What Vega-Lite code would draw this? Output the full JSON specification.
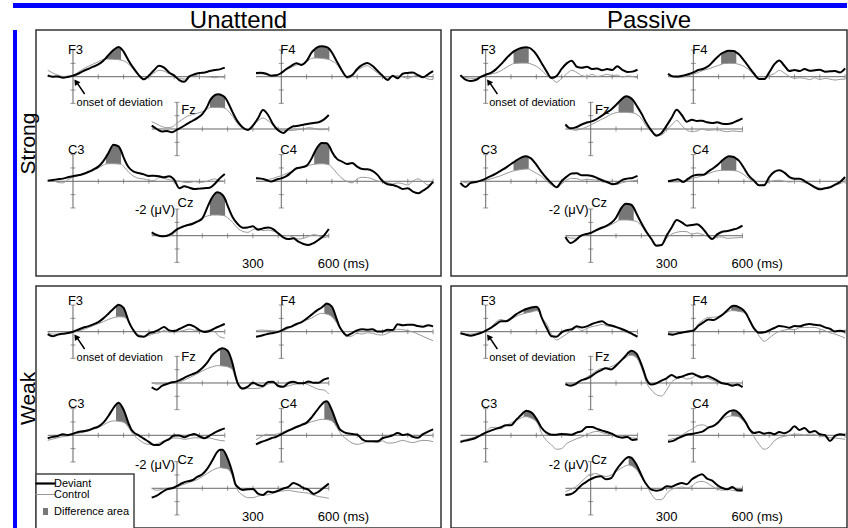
{
"$schema":"https://vega.github.io/schema/vega-lite/v6.json",
"padding":{"left":13,"top":3,"right":0,"bottom":0},
"background":"#ffffff",
"spacing":0,
"resolve":{"scale":{"color":"independent"},"legend":{"color":"independent"}},
"config":{
 "font":"Liberation Sans",
 "view":{"stroke":null},
 "axis":{"disable":true},
 "concat":{"spacing":0},
 "title":{"font":"Liberation Sans","fontSize":24,"fontWeight":"normal","color":"#000","offset":-3},
 "line":{"color":"#000","strokeWidth":2,"interpolate":"monotone"},
 "area":{"color":"#777","interpolate":"monotone"},
 "rule":{"color":"#666","strokeWidth":1},
 "tick":{"color":"#666"},
 "text":{"font":"Liberation Sans","fontSize":13,"align":"left","baseline":"alphabetic","color":"#000"}
},
"datasets":{
"one":[{"o":1}],
"xt":[{"t":100},{"t":200},{"t":300},{"t":400},{"t":500},{"t":600}],
"yt":[{"d":-2},{"d":-1},{"d":1},{"d":2}],
"SU_F3":[{"t":-100,"d":-0.1,"k":-0.48},{"t":-80,"d":0,"k":-0.28},{"t":-60,"d":-0.02,"k":-0.12},{"t":-40,"d":0.08,"k":-0.02},{"t":-20,"d":0.02,"k":-0.05},{"t":0,"d":-0.08,"k":-0.12},{"t":20,"d":-0.22,"k":-0.32},{"t":40,"d":-0.42,"k":-0.58},{"t":60,"d":-0.58,"k":-0.78},{"t":80,"d":-0.75,"k":-0.95},{"t":100,"d":-0.92,"k":-1.12},{"t":120,"d":-1.2,"k":-1.3},{"t":130,"d":-1.4,"k":-1.32},{"t":140,"d":-1.62,"k":-1.32},{"t":160,"d":-2,"k":-1.3},{"t":180,"d":-2.22,"k":-1.28},{"t":190,"d":-2.12,"k":-1.25},{"t":200,"d":-1.88,"k":-1.2},{"t":220,"d":-1.2,"k":-0.95},{"t":240,"d":-0.62,"k":-0.52},{"t":260,"d":-0.12,"k":-0.12},{"t":280,"d":0.2,"k":0.15},{"t":300,"d":-0.08,"k":0},{"t":320,"d":-0.48,"k":-0.28},{"t":340,"d":-0.82,"k":-0.48},{"t":360,"d":-0.68,"k":-0.42},{"t":380,"d":-0.32,"k":-0.22},{"t":400,"d":-0.08,"k":-0.08},{"t":420,"d":0.25,"k":0.1},{"t":440,"d":0.38,"k":0.18},{"t":460,"d":-0.02,"k":0},{"t":480,"d":-0.18,"k":-0.08},{"t":500,"d":-0.28,"k":-0.02},{"t":520,"d":-0.32,"k":0},{"t":540,"d":-0.42,"k":0.02},{"t":560,"d":-0.5,"k":0.08},{"t":580,"d":-0.55,"k":0.02},{"t":600,"d":-0.68,"k":0.05}],
"SU_F4":[{"t":-100,"d":-0.28,"k":-0.2},{"t":-80,"d":-0.3,"k":-0.22},{"t":-60,"d":-0.22,"k":-0.18},{"t":-40,"d":-0.08,"k":-0.1},{"t":-20,"d":-0.1,"k":-0.15},{"t":0,"d":-0.28,"k":-0.28},{"t":20,"d":-0.58,"k":-0.52},{"t":40,"d":-0.82,"k":-0.7},{"t":60,"d":-1,"k":-0.88},{"t":80,"d":-0.88,"k":-0.95},{"t":100,"d":-1.18,"k":-1.12},{"t":120,"d":-1.82,"k":-1.38},{"t":130,"d":-2.02,"k":-1.4},{"t":140,"d":-2.18,"k":-1.4},{"t":160,"d":-2.28,"k":-1.38},{"t":180,"d":-2.22,"k":-1.32},{"t":190,"d":-2.08,"k":-1.28},{"t":200,"d":-1.82,"k":-1.18},{"t":220,"d":-1.12,"k":-0.92},{"t":240,"d":-0.45,"k":-0.38},{"t":260,"d":0.02,"k":0.12},{"t":280,"d":-0.12,"k":-0.02},{"t":300,"d":-0.58,"k":-0.45},{"t":320,"d":-0.88,"k":-0.7},{"t":340,"d":-1.02,"k":-0.82},{"t":360,"d":-0.82,"k":-0.58},{"t":380,"d":-0.45,"k":-0.28},{"t":400,"d":-0.08,"k":-0.02},{"t":420,"d":0.25,"k":0.12},{"t":440,"d":-0.08,"k":-0.02},{"t":460,"d":0.12,"k":-0.08},{"t":480,"d":-0.22,"k":0.02},{"t":500,"d":-0.28,"k":0.12},{"t":520,"d":-0.32,"k":-0.02},{"t":540,"d":-0.12,"k":-0.12},{"t":560,"d":0.05,"k":0},{"t":580,"d":-0.18,"k":0.18},{"t":600,"d":-0.42,"k":0.22}],
"SU_Fz":[{"t":-100,"d":-0.25,"k":-0.55},{"t":-80,"d":0,"k":-0.38},{"t":-60,"d":0.18,"k":-0.18},{"t":-40,"d":0.15,"k":-0.1},{"t":-20,"d":0.25,"k":-0.15},{"t":0,"d":0.05,"k":-0.45},{"t":20,"d":-0.15,"k":-0.7},{"t":40,"d":-0.38,"k":-0.95},{"t":60,"d":-0.6,"k":-1.08},{"t":80,"d":-0.82,"k":-1.18},{"t":100,"d":-1.12,"k":-1.3},{"t":120,"d":-1.7,"k":-1.5},{"t":130,"d":-2.12,"k":-1.6},{"t":140,"d":-2.38,"k":-1.62},{"t":160,"d":-2.6,"k":-1.62},{"t":180,"d":-2.5,"k":-1.6},{"t":190,"d":-2.35,"k":-1.55},{"t":200,"d":-2.05,"k":-1.4},{"t":220,"d":-1.25,"k":-0.95},{"t":240,"d":-0.55,"k":-0.38},{"t":260,"d":-0.12,"k":-0.05},{"t":280,"d":0.08,"k":0.02},{"t":300,"d":-0.25,"k":-0.32},{"t":320,"d":-0.8,"k":-0.62},{"t":340,"d":-1.42,"k":-0.82},{"t":360,"d":-1.05,"k":-0.62},{"t":380,"d":-0.35,"k":-0.3},{"t":400,"d":0.1,"k":0},{"t":420,"d":0.3,"k":0.1},{"t":440,"d":0,"k":0.12},{"t":460,"d":-0.2,"k":0.1},{"t":480,"d":-0.25,"k":0.05},{"t":500,"d":-0.32,"k":0},{"t":520,"d":-0.4,"k":-0.1},{"t":540,"d":-0.45,"k":-0.05},{"t":560,"d":-0.5,"k":0.05},{"t":580,"d":-0.7,"k":0.05},{"t":600,"d":-1.05,"k":0}],
"SU_C3":[{"t":-100,"d":-0.05,"k":-0.02},{"t":-80,"d":-0.1,"k":-0.05},{"t":-60,"d":-0.15,"k":0.08},{"t":-40,"d":-0.2,"k":0.12},{"t":-20,"d":-0.3,"k":-0.12},{"t":0,"d":-0.38,"k":-0.3},{"t":20,"d":-0.45,"k":-0.42},{"t":40,"d":-0.55,"k":-0.55},{"t":60,"d":-0.7,"k":-0.68},{"t":80,"d":-0.88,"k":-0.8},{"t":100,"d":-1.1,"k":-1},{"t":120,"d":-1.52,"k":-1.22},{"t":130,"d":-1.8,"k":-1.3},{"t":140,"d":-2.12,"k":-1.32},{"t":160,"d":-2.75,"k":-1.32},{"t":180,"d":-2.62,"k":-1.3},{"t":190,"d":-2.3,"k":-1.28},{"t":200,"d":-1.8,"k":-1.12},{"t":220,"d":-1.05,"k":-0.68},{"t":240,"d":-0.72,"k":-0.38},{"t":260,"d":-0.62,"k":-0.22},{"t":280,"d":-0.52,"k":-0.18},{"t":300,"d":-0.4,"k":-0.08},{"t":320,"d":-0.42,"k":-0.05},{"t":340,"d":-0.38,"k":-0.28},{"t":360,"d":-0.3,"k":-0.22},{"t":380,"d":-0.38,"k":-0.12},{"t":400,"d":-0.12,"k":-0.05},{"t":420,"d":0.52,"k":-0.02},{"t":440,"d":0.38,"k":0.08},{"t":460,"d":0.48,"k":0.1},{"t":480,"d":0.58,"k":0.02},{"t":500,"d":0.55,"k":0.08},{"t":520,"d":0.52,"k":0.05},{"t":540,"d":0.48,"k":-0.08},{"t":560,"d":0.2,"k":-0.18},{"t":580,"d":-0.22,"k":-0.05},{"t":600,"d":-0.55,"k":0.02}],
"SU_C4":[{"t":-100,"d":-0.22,"k":-0.3},{"t":-80,"d":-0.2,"k":-0.22},{"t":-60,"d":-0.1,"k":-0.12},{"t":-40,"d":0.02,"k":-0.18},{"t":-20,"d":-0.12,"k":-0.3},{"t":0,"d":-0.22,"k":-0.42},{"t":20,"d":-0.38,"k":-0.58},{"t":40,"d":-0.68,"k":-0.72},{"t":60,"d":-0.98,"k":-0.92},{"t":80,"d":-1.05,"k":-1.02},{"t":100,"d":-1.18,"k":-1.12},{"t":120,"d":-1.72,"k":-1.25},{"t":130,"d":-2.12,"k":-1.28},{"t":140,"d":-2.48,"k":-1.3},{"t":160,"d":-2.88,"k":-1.32},{"t":180,"d":-2.85,"k":-1.28},{"t":190,"d":-2.62,"k":-1.22},{"t":200,"d":-2.22,"k":-1.05},{"t":220,"d":-1.68,"k":-0.6},{"t":240,"d":-1.48,"k":-0.22},{"t":260,"d":-1.3,"k":0.02},{"t":280,"d":-1.38,"k":0.12},{"t":300,"d":-1.1,"k":-0.18},{"t":320,"d":-0.92,"k":-0.3},{"t":340,"d":-0.9,"k":-0.28},{"t":360,"d":-0.78,"k":-0.18},{"t":380,"d":-0.48,"k":-0.02},{"t":400,"d":-0.02,"k":0.05},{"t":420,"d":0.22,"k":0.1},{"t":440,"d":0.28,"k":0.2},{"t":460,"d":0.4,"k":0.12},{"t":480,"d":0.58,"k":0.18},{"t":500,"d":0.52,"k":0.28},{"t":520,"d":0.78,"k":-0.02},{"t":540,"d":0.9,"k":-0.18},{"t":560,"d":0.7,"k":0.02},{"t":580,"d":0.45,"k":0.28},{"t":600,"d":0.02,"k":0.08}],
"SU_Cz":[{"t":-100,"d":-0.25,"k":-0.12},{"t":-80,"d":-0.05,"k":-0.05},{"t":-60,"d":0.05,"k":0.02},{"t":-40,"d":0,"k":0.05},{"t":-20,"d":-0.18,"k":-0.05},{"t":0,"d":-0.48,"k":-0.38},{"t":20,"d":-0.65,"k":-0.7},{"t":40,"d":-0.78,"k":-0.82},{"t":60,"d":-0.88,"k":-0.95},{"t":80,"d":-1.05,"k":-1.12},{"t":100,"d":-1.3,"k":-1.32},{"t":120,"d":-2.12,"k":-1.48},{"t":130,"d":-2.55,"k":-1.52},{"t":140,"d":-2.9,"k":-1.55},{"t":160,"d":-3.25,"k":-1.55},{"t":180,"d":-3.05,"k":-1.52},{"t":190,"d":-2.75,"k":-1.48},{"t":200,"d":-2.25,"k":-1.35},{"t":220,"d":-1.38,"k":-1},{"t":240,"d":-0.88,"k":-0.55},{"t":260,"d":-0.6,"k":-0.32},{"t":280,"d":-0.62,"k":-0.25},{"t":300,"d":-0.7,"k":-0.45},{"t":320,"d":-0.45,"k":-0.55},{"t":340,"d":-0.55,"k":-0.38},{"t":360,"d":-0.62,"k":-0.42},{"t":380,"d":-0.5,"k":-0.35},{"t":400,"d":-0.18,"k":-0.2},{"t":420,"d":0.12,"k":0},{"t":440,"d":0.25,"k":-0.02},{"t":460,"d":0.2,"k":0.12},{"t":480,"d":0.45,"k":0.25},{"t":500,"d":0.62,"k":0.2},{"t":520,"d":0.7,"k":0.05},{"t":540,"d":0.55,"k":-0.08},{"t":560,"d":0.3,"k":0},{"t":580,"d":0,"k":0.15},{"t":600,"d":-0.5,"k":0.05}],
"SP_F3":[{"t":-100,"d":-0.12,"k":-0.08},{"t":-80,"d":0.22,"k":0.05},{"t":-60,"d":0.32,"k":0.12},{"t":-40,"d":0.25,"k":0.12},{"t":-20,"d":0.02,"k":0.02},{"t":0,"d":-0.15,"k":-0.12},{"t":20,"d":-0.28,"k":-0.2},{"t":40,"d":-0.55,"k":-0.28},{"t":60,"d":-0.92,"k":-0.45},{"t":80,"d":-1.35,"k":-0.68},{"t":100,"d":-1.72,"k":-0.9},{"t":110,"d":-1.88,"k":-0.98},{"t":120,"d":-2,"k":-1},{"t":140,"d":-2.15,"k":-1.02},{"t":160,"d":-2.2,"k":-1.02},{"t":170,"d":-2.18,"k":-1},{"t":180,"d":-2.08,"k":-0.95},{"t":200,"d":-1.68,"k":-0.78},{"t":220,"d":-1.05,"k":-0.5},{"t":240,"d":-0.42,"k":-0.12},{"t":260,"d":0.1,"k":0.12},{"t":280,"d":-0.05,"k":0.42},{"t":300,"d":-0.58,"k":0.12},{"t":320,"d":-1,"k":-0.22},{"t":340,"d":-1.2,"k":-0.48},{"t":360,"d":-0.75,"k":-0.32},{"t":380,"d":-0.68,"k":-0.08},{"t":400,"d":-0.75,"k":-0.02},{"t":420,"d":-0.58,"k":-0.18},{"t":440,"d":-0.62,"k":-0.02},{"t":460,"d":-0.48,"k":-0.08},{"t":480,"d":-0.58,"k":-0.18},{"t":500,"d":-0.5,"k":-0.08},{"t":520,"d":-0.78,"k":-0.12},{"t":540,"d":-0.52,"k":0.02},{"t":560,"d":-0.35,"k":-0.05},{"t":580,"d":-0.38,"k":-0.02},{"t":600,"d":-0.52,"k":0.08}],
"SP_F4":[{"t":-100,"d":-0.22,"k":-0.12},{"t":-80,"d":-0.02,"k":-0.02},{"t":-60,"d":-0.02,"k":0.08},{"t":-40,"d":-0.08,"k":0.02},{"t":-20,"d":-0.18,"k":-0.08},{"t":0,"d":-0.32,"k":-0.18},{"t":20,"d":-0.5,"k":-0.32},{"t":40,"d":-0.6,"k":-0.48},{"t":60,"d":-0.8,"k":-0.58},{"t":80,"d":-1.18,"k":-0.72},{"t":100,"d":-1.55,"k":-0.85},{"t":110,"d":-1.72,"k":-0.92},{"t":120,"d":-1.82,"k":-0.98},{"t":140,"d":-1.95,"k":-1},{"t":160,"d":-1.92,"k":-1},{"t":170,"d":-1.82,"k":-0.98},{"t":180,"d":-1.68,"k":-0.92},{"t":200,"d":-1.22,"k":-0.78},{"t":220,"d":-0.72,"k":-0.52},{"t":240,"d":-0.22,"k":-0.18},{"t":260,"d":0.18,"k":0.12},{"t":280,"d":0.18,"k":0.12},{"t":300,"d":-0.32,"k":-0.08},{"t":320,"d":-0.92,"k":-0.22},{"t":340,"d":-1.22,"k":-0.48},{"t":360,"d":-0.82,"k":-0.28},{"t":380,"d":-0.42,"k":-0.02},{"t":400,"d":-0.5,"k":0.12},{"t":420,"d":-0.42,"k":0.08},{"t":440,"d":-0.58,"k":0.12},{"t":460,"d":-0.45,"k":0.22},{"t":480,"d":-0.48,"k":0.08},{"t":500,"d":-0.52,"k":0.22},{"t":520,"d":-0.38,"k":0.12},{"t":540,"d":-0.4,"k":0.18},{"t":560,"d":-0.42,"k":0.25},{"t":580,"d":-0.32,"k":0.2},{"t":600,"d":-0.62,"k":0.18}],
"SP_Fz":[{"t":-100,"d":-0.35,"k":-0.2},{"t":-80,"d":-0.05,"k":0},{"t":-60,"d":-0.12,"k":0.1},{"t":-40,"d":-0.3,"k":0},{"t":-20,"d":-0.45,"k":-0.12},{"t":0,"d":-0.55,"k":-0.3},{"t":20,"d":-0.7,"k":-0.5},{"t":40,"d":-0.95,"k":-0.7},{"t":60,"d":-1.2,"k":-0.88},{"t":80,"d":-1.45,"k":-1.1},{"t":100,"d":-1.8,"k":-1.22},{"t":110,"d":-2,"k":-1.25},{"t":120,"d":-2.2,"k":-1.25},{"t":140,"d":-2.45,"k":-1.25},{"t":160,"d":-2.3,"k":-1.22},{"t":170,"d":-2.1,"k":-1.2},{"t":180,"d":-1.8,"k":-1.12},{"t":200,"d":-1.18,"k":-0.8},{"t":220,"d":-0.45,"k":-0.2},{"t":240,"d":0.12,"k":0.2},{"t":260,"d":0.5,"k":0.4},{"t":280,"d":0.3,"k":0.45},{"t":300,"d":-0.25,"k":0.05},{"t":320,"d":-0.85,"k":-0.3},{"t":340,"d":-1.45,"k":-0.65},{"t":360,"d":-1.05,"k":-0.25},{"t":380,"d":-0.55,"k":0.08},{"t":400,"d":-0.7,"k":0.2},{"t":420,"d":-0.6,"k":0.15},{"t":440,"d":-0.62,"k":0},{"t":460,"d":-0.5,"k":0.1},{"t":480,"d":-0.45,"k":0.08},{"t":500,"d":-0.5,"k":0.05},{"t":520,"d":-0.4,"k":0.15},{"t":540,"d":-0.38,"k":0.2},{"t":560,"d":-0.45,"k":0.15},{"t":580,"d":-0.62,"k":0.18},{"t":600,"d":-0.8,"k":0.2}],
"SP_C3":[{"t":-100,"d":0.12,"k":0},{"t":-80,"d":0.42,"k":0.1},{"t":-60,"d":0.12,"k":0.15},{"t":-40,"d":0.05,"k":0.08},{"t":-20,"d":-0.05,"k":0},{"t":0,"d":-0.2,"k":-0.08},{"t":20,"d":-0.38,"k":-0.18},{"t":40,"d":-0.58,"k":-0.3},{"t":60,"d":-0.8,"k":-0.42},{"t":80,"d":-1.02,"k":-0.58},{"t":100,"d":-1.3,"k":-0.72},{"t":110,"d":-1.42,"k":-0.78},{"t":120,"d":-1.55,"k":-0.82},{"t":140,"d":-1.78,"k":-0.88},{"t":160,"d":-1.88,"k":-0.92},{"t":170,"d":-1.82,"k":-0.92},{"t":180,"d":-1.7,"k":-0.82},{"t":200,"d":-1.25,"k":-0.6},{"t":220,"d":-0.7,"k":-0.38},{"t":240,"d":-0.25,"k":-0.02},{"t":260,"d":0.15,"k":0.28},{"t":280,"d":0.45,"k":0.48},{"t":300,"d":0,"k":0.2},{"t":320,"d":-0.35,"k":-0.1},{"t":340,"d":-0.58,"k":-0.22},{"t":360,"d":-0.6,"k":-0.2},{"t":380,"d":-0.45,"k":-0.08},{"t":400,"d":-0.45,"k":-0.15},{"t":420,"d":-0.4,"k":-0.12},{"t":440,"d":-0.25,"k":-0.08},{"t":460,"d":-0.08,"k":0.05},{"t":480,"d":0.05,"k":0.12},{"t":500,"d":0.22,"k":0.2},{"t":520,"d":0.15,"k":0.22},{"t":540,"d":-0.1,"k":0.1},{"t":560,"d":-0.2,"k":0.02},{"t":580,"d":-0.25,"k":-0.02},{"t":600,"d":-0.4,"k":-0.08}],
"SP_C4":[{"t":-100,"d":0,"k":0.05},{"t":-80,"d":-0.08,"k":0.05},{"t":-60,"d":-0.15,"k":0.05},{"t":-40,"d":0.05,"k":0},{"t":-20,"d":-0.2,"k":-0.08},{"t":0,"d":-0.42,"k":-0.25},{"t":20,"d":-0.5,"k":-0.32},{"t":40,"d":-0.5,"k":-0.45},{"t":60,"d":-0.75,"k":-0.58},{"t":80,"d":-1,"k":-0.72},{"t":100,"d":-1.3,"k":-0.8},{"t":110,"d":-1.48,"k":-0.82},{"t":120,"d":-1.65,"k":-0.82},{"t":140,"d":-1.88,"k":-0.82},{"t":160,"d":-1.82,"k":-0.8},{"t":170,"d":-1.7,"k":-0.78},{"t":180,"d":-1.55,"k":-0.72},{"t":200,"d":-1,"k":-0.5},{"t":220,"d":-0.4,"k":-0.2},{"t":240,"d":-0.05,"k":0.05},{"t":260,"d":0.3,"k":0.3},{"t":280,"d":0.3,"k":0.22},{"t":300,"d":-0.32,"k":0.05},{"t":320,"d":-0.7,"k":-0.05},{"t":340,"d":-0.82,"k":-0.08},{"t":360,"d":-0.65,"k":0},{"t":380,"d":-0.32,"k":0.05},{"t":400,"d":-0.2,"k":0.02},{"t":420,"d":-0.2,"k":0.02},{"t":440,"d":-0.02,"k":0.1},{"t":460,"d":0.22,"k":0.22},{"t":480,"d":0.45,"k":0.38},{"t":500,"d":0.6,"k":0.5},{"t":520,"d":0.52,"k":0.55},{"t":540,"d":0.45,"k":0.45},{"t":560,"d":0.25,"k":0.3},{"t":580,"d":0.05,"k":0.18},{"t":600,"d":-0.32,"k":0}],
"SP_Cz":[{"t":-100,"d":0.1,"k":0},{"t":-80,"d":0.55,"k":0.18},{"t":-60,"d":0.35,"k":0.2},{"t":-40,"d":0.02,"k":0.08},{"t":-20,"d":-0.12,"k":-0.1},{"t":0,"d":-0.2,"k":-0.2},{"t":20,"d":-0.4,"k":-0.35},{"t":40,"d":-0.58,"k":-0.5},{"t":60,"d":-0.72,"k":-0.65},{"t":80,"d":-0.95,"k":-0.82},{"t":100,"d":-1.35,"k":-1.02},{"t":110,"d":-1.7,"k":-1.15},{"t":120,"d":-2.05,"k":-1.18},{"t":140,"d":-2.4,"k":-1.18},{"t":160,"d":-2.32,"k":-1.15},{"t":170,"d":-2.1,"k":-1.12},{"t":180,"d":-1.7,"k":-1.08},{"t":200,"d":-0.95,"k":-0.75},{"t":220,"d":-0.3,"k":-0.18},{"t":240,"d":0.25,"k":0.3},{"t":260,"d":0.75,"k":0.7},{"t":280,"d":0.7,"k":0.7},{"t":300,"d":0,"k":0.2},{"t":320,"d":-0.62,"k":-0.12},{"t":340,"d":-1.18,"k":-0.25},{"t":360,"d":-1,"k":-0.32},{"t":380,"d":-0.75,"k":-0.3},{"t":400,"d":-0.8,"k":-0.12},{"t":420,"d":-0.85,"k":-0.2},{"t":440,"d":-0.6,"k":-0.1},{"t":460,"d":-0.12,"k":0.05},{"t":480,"d":0.25,"k":0.3},{"t":500,"d":-0.1,"k":0.1},{"t":520,"d":-0.3,"k":0.1},{"t":540,"d":-0.35,"k":0.2},{"t":560,"d":-0.45,"k":0.18},{"t":580,"d":-0.55,"k":0.15},{"t":600,"d":-0.75,"k":0.12}],
"WU_F3":[{"t":-100,"d":0.18,"k":0.05},{"t":-80,"d":0.35,"k":0.18},{"t":-60,"d":0.22,"k":0.18},{"t":-40,"d":0.15,"k":0.15},{"t":-20,"d":0.1,"k":0.1},{"t":0,"d":0,"k":0.05},{"t":20,"d":-0.15,"k":-0.05},{"t":40,"d":-0.3,"k":-0.15},{"t":60,"d":-0.4,"k":-0.3},{"t":80,"d":-0.55,"k":-0.45},{"t":100,"d":-0.72,"k":-0.6},{"t":120,"d":-1,"k":-0.75},{"t":140,"d":-1.35,"k":-0.92},{"t":160,"d":-1.72,"k":-1.05},{"t":170,"d":-1.9,"k":-1.1},{"t":180,"d":-2.02,"k":-1.12},{"t":200,"d":-1.78,"k":-1.1},{"t":220,"d":-0.78,"k":-0.78},{"t":230,"d":-0.38,"k":-0.45},{"t":240,"d":-0.08,"k":-0.08},{"t":260,"d":0.35,"k":0.22},{"t":280,"d":0.38,"k":0.35},{"t":300,"d":0.12,"k":0.28},{"t":320,"d":0.02,"k":0.15},{"t":340,"d":-0.15,"k":0.08},{"t":360,"d":-0.35,"k":-0.08},{"t":380,"d":-0.1,"k":0.02},{"t":400,"d":-0.05,"k":0.02},{"t":420,"d":-0.2,"k":-0.02},{"t":440,"d":-0.38,"k":-0.1},{"t":460,"d":-0.52,"k":-0.2},{"t":480,"d":-0.38,"k":-0.12},{"t":500,"d":-0.12,"k":-0.08},{"t":520,"d":0.02,"k":-0.08},{"t":540,"d":-0.05,"k":-0.12},{"t":560,"d":-0.25,"k":0},{"t":580,"d":-0.42,"k":0.38},{"t":600,"d":-0.58,"k":0.48}],
"WU_F4":[{"t":-100,"d":0.38,"k":-0.08},{"t":-80,"d":0.3,"k":-0.12},{"t":-60,"d":0.2,"k":-0.1},{"t":-40,"d":0.12,"k":-0.08},{"t":-20,"d":0.05,"k":-0.05},{"t":0,"d":-0.08,"k":-0.02},{"t":20,"d":-0.28,"k":-0.18},{"t":40,"d":-0.38,"k":-0.38},{"t":60,"d":-0.58,"k":-0.52},{"t":80,"d":-0.72,"k":-0.68},{"t":100,"d":-0.98,"k":-0.88},{"t":120,"d":-1.28,"k":-1.02},{"t":140,"d":-1.58,"k":-1.25},{"t":160,"d":-1.82,"k":-1.38},{"t":170,"d":-1.98,"k":-1.35},{"t":180,"d":-2.12,"k":-1.32},{"t":200,"d":-1.88,"k":-1.12},{"t":220,"d":-0.88,"k":-0.62},{"t":230,"d":-0.38,"k":-0.28},{"t":240,"d":-0.08,"k":0},{"t":260,"d":0.28,"k":0.38},{"t":280,"d":0.1,"k":0.32},{"t":300,"d":-0.1,"k":0.12},{"t":320,"d":-0.18,"k":0.18},{"t":340,"d":-0.15,"k":0.08},{"t":360,"d":-0.18,"k":0.12},{"t":380,"d":-0.02,"k":0.22},{"t":400,"d":-0.02,"k":0.25},{"t":420,"d":-0.15,"k":0.12},{"t":440,"d":-0.12,"k":-0.05},{"t":460,"d":-0.55,"k":-0.18},{"t":480,"d":-0.48,"k":-0.15},{"t":500,"d":-0.52,"k":-0.08},{"t":520,"d":-0.52,"k":0.02},{"t":540,"d":-0.42,"k":0.18},{"t":560,"d":-0.38,"k":0.35},{"t":580,"d":-0.48,"k":0.52},{"t":600,"d":-0.4,"k":0.68}],
"WU_Fz":[{"t":-100,"d":0.32,"k":-0.05},{"t":-80,"d":0.5,"k":0.08},{"t":-60,"d":0.22,"k":0.05},{"t":-40,"d":0.08,"k":0},{"t":-20,"d":-0.05,"k":-0.05},{"t":0,"d":-0.12,"k":-0.05},{"t":20,"d":-0.3,"k":-0.15},{"t":40,"d":-0.5,"k":-0.32},{"t":60,"d":-0.65,"k":-0.5},{"t":80,"d":-0.82,"k":-0.7},{"t":100,"d":-1.12,"k":-0.9},{"t":120,"d":-1.55,"k":-1.08},{"t":140,"d":-2.1,"k":-1.22},{"t":160,"d":-2.42,"k":-1.3},{"t":170,"d":-2.55,"k":-1.3},{"t":180,"d":-2.6,"k":-1.28},{"t":200,"d":-2.42,"k":-1.22},{"t":220,"d":-1.42,"k":-0.98},{"t":230,"d":-0.62,"k":-0.42},{"t":240,"d":0.02,"k":0.08},{"t":260,"d":0.42,"k":0.48},{"t":280,"d":0.28,"k":0.4},{"t":300,"d":-0.02,"k":0.42},{"t":320,"d":0.15,"k":0.4},{"t":340,"d":0.22,"k":0.32},{"t":360,"d":-0.08,"k":0.08},{"t":380,"d":-0.1,"k":0.02},{"t":400,"d":0.22,"k":0.18},{"t":420,"d":0.28,"k":0.28},{"t":440,"d":0,"k":0.22},{"t":460,"d":-0.1,"k":0.12},{"t":480,"d":0.02,"k":0.05},{"t":500,"d":0.02,"k":0.02},{"t":520,"d":-0.12,"k":0.15},{"t":540,"d":-0.02,"k":0.32},{"t":560,"d":-0.02,"k":0.48},{"t":580,"d":-0.25,"k":0.52},{"t":600,"d":-0.38,"k":0.82}],
"WU_C3":[{"t":-100,"d":0.22,"k":0.38},{"t":-80,"d":0.12,"k":0.28},{"t":-60,"d":0.05,"k":0.18},{"t":-40,"d":-0.08,"k":0.1},{"t":-20,"d":-0.02,"k":0.05},{"t":0,"d":-0.12,"k":-0.08},{"t":20,"d":-0.25,"k":-0.15},{"t":40,"d":-0.3,"k":-0.22},{"t":60,"d":-0.38,"k":-0.32},{"t":80,"d":-0.52,"k":-0.45},{"t":100,"d":-0.65,"k":-0.58},{"t":120,"d":-0.95,"k":-0.78},{"t":140,"d":-1.45,"k":-0.98},{"t":160,"d":-2.05,"k":-1.08},{"t":170,"d":-2.3,"k":-1.08},{"t":180,"d":-2.45,"k":-1.05},{"t":200,"d":-1.92,"k":-0.98},{"t":220,"d":-0.88,"k":-0.58},{"t":230,"d":-0.45,"k":-0.28},{"t":240,"d":-0.22,"k":-0.02},{"t":260,"d":0,"k":0.32},{"t":280,"d":0.25,"k":0.58},{"t":300,"d":0.5,"k":0.68},{"t":320,"d":0.72,"k":0.68},{"t":340,"d":0.72,"k":0.58},{"t":360,"d":0.48,"k":0.42},{"t":380,"d":0.28,"k":0.32},{"t":400,"d":0.02,"k":0.2},{"t":420,"d":0.02,"k":0.22},{"t":440,"d":0.15,"k":0.3},{"t":460,"d":0,"k":0.25},{"t":480,"d":-0.1,"k":0.18},{"t":500,"d":0.08,"k":0.2},{"t":520,"d":0.22,"k":0.22},{"t":540,"d":0.02,"k":0.2},{"t":560,"d":-0.2,"k":0.3},{"t":580,"d":-0.38,"k":0.38},{"t":600,"d":-0.52,"k":0.42}],
"WU_C4":[{"t":-100,"d":0.68,"k":0.32},{"t":-80,"d":0.5,"k":0.12},{"t":-60,"d":0.38,"k":-0.08},{"t":-40,"d":0.22,"k":-0.05},{"t":-20,"d":0.12,"k":-0.08},{"t":0,"d":-0.08,"k":-0.2},{"t":20,"d":-0.28,"k":-0.35},{"t":40,"d":-0.45,"k":-0.48},{"t":60,"d":-0.62,"k":-0.58},{"t":80,"d":-0.78,"k":-0.72},{"t":100,"d":-0.95,"k":-0.88},{"t":120,"d":-1.35,"k":-1.02},{"t":140,"d":-1.85,"k":-1.12},{"t":160,"d":-2.32,"k":-1.2},{"t":170,"d":-2.5,"k":-1.2},{"t":180,"d":-2.55,"k":-1.18},{"t":200,"d":-1.88,"k":-1.08},{"t":220,"d":-0.88,"k":-0.58},{"t":230,"d":-0.48,"k":-0.28},{"t":240,"d":-0.32,"k":0},{"t":260,"d":-0.15,"k":0.32},{"t":280,"d":-0.1,"k":0.58},{"t":300,"d":-0.05,"k":0.68},{"t":320,"d":0.3,"k":0.6},{"t":340,"d":0.45,"k":0.48},{"t":360,"d":0.45,"k":0.48},{"t":380,"d":0.45,"k":0.55},{"t":400,"d":0.22,"k":0.42},{"t":420,"d":0.12,"k":0.58},{"t":440,"d":0,"k":0.58},{"t":460,"d":-0.18,"k":0.48},{"t":480,"d":-0.02,"k":0.38},{"t":500,"d":-0.08,"k":0.48},{"t":520,"d":0.12,"k":0.55},{"t":540,"d":0.18,"k":0.45},{"t":560,"d":-0.08,"k":0.38},{"t":580,"d":-0.28,"k":0.4},{"t":600,"d":-0.45,"k":0.48}],
"WU_Cz":[{"t":-100,"d":0.7,"k":0},{"t":-80,"d":0.55,"k":0.15},{"t":-60,"d":0.3,"k":0.08},{"t":-40,"d":0.08,"k":0},{"t":-20,"d":0,"k":-0.05},{"t":0,"d":-0.18,"k":-0.1},{"t":20,"d":-0.38,"k":-0.25},{"t":40,"d":-0.52,"k":-0.38},{"t":60,"d":-0.6,"k":-0.52},{"t":80,"d":-0.85,"k":-0.65},{"t":100,"d":-1.05,"k":-0.88},{"t":120,"d":-1.48,"k":-1.12},{"t":140,"d":-2.1,"k":-1.35},{"t":160,"d":-2.75,"k":-1.52},{"t":170,"d":-2.9,"k":-1.55},{"t":180,"d":-2.9,"k":-1.52},{"t":200,"d":-2.25,"k":-1.45},{"t":220,"d":-1.1,"k":-0.85},{"t":230,"d":-0.35,"k":-0.25},{"t":240,"d":-0.1,"k":0.15},{"t":260,"d":0.12,"k":0.52},{"t":280,"d":0.08,"k":0.7},{"t":300,"d":0.05,"k":0.7},{"t":320,"d":0.4,"k":0.58},{"t":340,"d":0.5,"k":0.52},{"t":360,"d":0.25,"k":0.48},{"t":380,"d":0.3,"k":0.38},{"t":400,"d":0.18,"k":0.22},{"t":420,"d":0.02,"k":0.2},{"t":440,"d":-0.1,"k":0.15},{"t":460,"d":-0.4,"k":0.22},{"t":480,"d":-0.25,"k":0.28},{"t":500,"d":-0.02,"k":0.32},{"t":520,"d":0.12,"k":0.38},{"t":540,"d":0.42,"k":0.52},{"t":560,"d":0.25,"k":0.62},{"t":580,"d":-0.05,"k":0.68},{"t":600,"d":-0.35,"k":0.75}],
"WP_F3":[{"t":-100,"d":0.12,"k":0.12},{"t":-80,"d":0.22,"k":0.15},{"t":-60,"d":0.3,"k":0.18},{"t":-40,"d":0.22,"k":0.12},{"t":-20,"d":0.1,"k":0.05},{"t":0,"d":-0.08,"k":-0.08},{"t":20,"d":-0.28,"k":-0.32},{"t":40,"d":-0.55,"k":-0.72},{"t":60,"d":-0.78,"k":-0.92},{"t":80,"d":-0.78,"k":-0.82},{"t":100,"d":-1,"k":-0.92},{"t":120,"d":-1.3,"k":-1.15},{"t":140,"d":-1.52,"k":-1.3},{"t":150,"d":-1.62,"k":-1.35},{"t":160,"d":-1.7,"k":-1.4},{"t":180,"d":-1.82,"k":-1.48},{"t":200,"d":-1.88,"k":-1.58},{"t":210,"d":-1.7,"k":-1.5},{"t":220,"d":-1.12,"k":-1.08},{"t":240,"d":-0.32,"k":-0.62},{"t":260,"d":0.35,"k":0.18},{"t":280,"d":0.38,"k":0.62},{"t":300,"d":0.05,"k":0.42},{"t":320,"d":-0.12,"k":0.18},{"t":340,"d":-0.18,"k":-0.08},{"t":360,"d":-0.4,"k":-0.32},{"t":380,"d":-0.32,"k":-0.08},{"t":400,"d":-0.4,"k":-0.25},{"t":420,"d":-0.58,"k":-0.38},{"t":440,"d":-0.7,"k":-0.45},{"t":460,"d":-0.78,"k":-0.55},{"t":480,"d":-0.55,"k":-0.42},{"t":500,"d":-0.45,"k":-0.38},{"t":520,"d":-0.32,"k":-0.28},{"t":540,"d":-0.18,"k":-0.08},{"t":560,"d":-0.02,"k":0.08},{"t":580,"d":0.18,"k":0.18},{"t":600,"d":0.38,"k":0.3}],
"WP_F4":[{"t":-100,"d":0.18,"k":0.05},{"t":-80,"d":0.22,"k":0.1},{"t":-60,"d":0.12,"k":0.12},{"t":-40,"d":0.05,"k":0.05},{"t":-20,"d":-0.02,"k":-0.08},{"t":0,"d":-0.08,"k":-0.12},{"t":20,"d":-0.45,"k":-0.58},{"t":40,"d":-0.7,"k":-0.88},{"t":60,"d":-0.92,"k":-1.08},{"t":80,"d":-0.88,"k":-1.08},{"t":100,"d":-1.08,"k":-1.15},{"t":120,"d":-1.35,"k":-1.32},{"t":140,"d":-1.7,"k":-1.52},{"t":150,"d":-1.88,"k":-1.58},{"t":160,"d":-1.95,"k":-1.58},{"t":180,"d":-1.85,"k":-1.52},{"t":200,"d":-1.58,"k":-1.45},{"t":210,"d":-1.32,"k":-1.25},{"t":220,"d":-0.95,"k":-0.95},{"t":240,"d":-0.25,"k":-0.25},{"t":260,"d":0.08,"k":0.3},{"t":280,"d":0.05,"k":0.72},{"t":300,"d":-0.1,"k":0.48},{"t":320,"d":-0.28,"k":0.18},{"t":340,"d":-0.42,"k":-0.02},{"t":360,"d":-0.38,"k":-0.12},{"t":380,"d":-0.3,"k":-0.18},{"t":400,"d":-0.42,"k":-0.15},{"t":420,"d":-0.4,"k":-0.3},{"t":440,"d":-0.52,"k":-0.32},{"t":460,"d":-0.58,"k":-0.32},{"t":480,"d":-0.52,"k":-0.32},{"t":500,"d":-0.48,"k":-0.2},{"t":520,"d":-0.32,"k":-0.08},{"t":540,"d":-0.22,"k":0.08},{"t":560,"d":-0.02,"k":0.18},{"t":580,"d":-0.08,"k":0.32},{"t":600,"d":0,"k":0.48}],
"WP_Fz":[{"t":-100,"d":0.08,"k":0.02},{"t":-80,"d":0.2,"k":0.08},{"t":-60,"d":0.08,"k":-0.02},{"t":-40,"d":-0.18,"k":-0.18},{"t":-20,"d":-0.3,"k":-0.38},{"t":0,"d":-0.48,"k":-0.62},{"t":20,"d":-0.75,"k":-0.9},{"t":40,"d":-0.95,"k":-1.08},{"t":60,"d":-1.1,"k":-1.12},{"t":80,"d":-1.02,"k":-1.22},{"t":100,"d":-1.3,"k":-1.42},{"t":120,"d":-1.68,"k":-1.68},{"t":140,"d":-2.08,"k":-1.92},{"t":150,"d":-2.3,"k":-2.05},{"t":160,"d":-2.42,"k":-2.08},{"t":180,"d":-2.22,"k":-1.92},{"t":200,"d":-1.42,"k":-1.18},{"t":210,"d":-0.88,"k":-0.62},{"t":220,"d":-0.3,"k":-0.05},{"t":240,"d":0.12,"k":0.52},{"t":260,"d":0.02,"k":0.88},{"t":280,"d":-0.18,"k":0.98},{"t":300,"d":-0.35,"k":0.52},{"t":320,"d":-0.6,"k":-0.08},{"t":340,"d":-0.4,"k":-0.32},{"t":360,"d":-0.48,"k":-0.42},{"t":380,"d":-0.62,"k":-0.3},{"t":400,"d":-0.72,"k":-0.38},{"t":420,"d":-0.55,"k":-0.6},{"t":440,"d":-0.42,"k":-0.48},{"t":460,"d":-0.52,"k":-0.38},{"t":480,"d":-0.38,"k":-0.22},{"t":500,"d":-0.18,"k":-0.08},{"t":520,"d":0.02,"k":0},{"t":540,"d":0.08,"k":0.08},{"t":560,"d":0.2,"k":0.12},{"t":580,"d":0.12,"k":0.2},{"t":600,"d":0.32,"k":0.28}],
"WP_C3":[{"t":-100,"d":0.5,"k":0.42},{"t":-80,"d":0.4,"k":0.32},{"t":-60,"d":0.32,"k":0.22},{"t":-40,"d":0.2,"k":0.12},{"t":-20,"d":0,"k":-0.05},{"t":0,"d":-0.2,"k":-0.28},{"t":20,"d":-0.35,"k":-0.58},{"t":40,"d":-0.48,"k":-0.6},{"t":60,"d":-0.6,"k":-0.5},{"t":80,"d":-0.75,"k":-0.72},{"t":100,"d":-0.75,"k":-0.92},{"t":120,"d":-1.15,"k":-1.12},{"t":140,"d":-1.52,"k":-1.3},{"t":150,"d":-1.72,"k":-1.38},{"t":160,"d":-1.85,"k":-1.4},{"t":180,"d":-1.72,"k":-1.28},{"t":200,"d":-1.25,"k":-1.02},{"t":210,"d":-0.92,"k":-0.72},{"t":220,"d":-0.58,"k":-0.2},{"t":240,"d":-0.2,"k":0.38},{"t":260,"d":-0.05,"k":0.72},{"t":280,"d":-0.05,"k":1.05},{"t":300,"d":-0.1,"k":1},{"t":320,"d":-0.08,"k":0.62},{"t":340,"d":-0.05,"k":0.42},{"t":360,"d":-0.2,"k":0.25},{"t":380,"d":-0.32,"k":0.12},{"t":400,"d":-0.62,"k":-0.05},{"t":420,"d":-0.62,"k":-0.22},{"t":440,"d":-0.48,"k":-0.3},{"t":460,"d":-0.35,"k":-0.2},{"t":480,"d":-0.25,"k":-0.1},{"t":500,"d":-0.1,"k":0.02},{"t":520,"d":0.1,"k":0.05},{"t":540,"d":0.18,"k":0.05},{"t":560,"d":0.12,"k":0.15},{"t":580,"d":0.35,"k":0.2},{"t":600,"d":0.3,"k":0.22}],
"WP_C4":[{"t":-100,"d":0.48,"k":0.38},{"t":-80,"d":0.42,"k":0.25},{"t":-60,"d":0.22,"k":0.18},{"t":-40,"d":0.05,"k":-0.08},{"t":-20,"d":-0.08,"k":-0.32},{"t":0,"d":-0.12,"k":-0.52},{"t":20,"d":-0.2,"k":-0.75},{"t":40,"d":-0.32,"k":-0.78},{"t":60,"d":-0.58,"k":-0.62},{"t":80,"d":-0.7,"k":-0.75},{"t":100,"d":-1,"k":-1.02},{"t":120,"d":-1.45,"k":-1.28},{"t":140,"d":-1.78,"k":-1.42},{"t":150,"d":-1.85,"k":-1.45},{"t":160,"d":-1.88,"k":-1.45},{"t":180,"d":-1.68,"k":-1.38},{"t":200,"d":-1.18,"k":-1.02},{"t":210,"d":-0.88,"k":-0.78},{"t":220,"d":-0.52,"k":-0.45},{"t":240,"d":-0.18,"k":0.12},{"t":260,"d":-0.25,"k":0.68},{"t":280,"d":-0.12,"k":1.05},{"t":300,"d":-0.2,"k":0.88},{"t":320,"d":-0.08,"k":0.42},{"t":340,"d":-0.25,"k":0.18},{"t":360,"d":-0.15,"k":0.08},{"t":380,"d":-0.32,"k":0},{"t":400,"d":-0.68,"k":-0.08},{"t":420,"d":-0.4,"k":-0.08},{"t":440,"d":-0.55,"k":-0.02},{"t":460,"d":-0.22,"k":-0.1},{"t":480,"d":-0.32,"k":-0.05},{"t":500,"d":-0.08,"k":0.05},{"t":520,"d":-0.02,"k":0.12},{"t":540,"d":0.42,"k":0.18},{"t":560,"d":0.05,"k":0.2},{"t":580,"d":-0.08,"k":0.25},{"t":600,"d":-0.02,"k":0.3}],
"WP_Cz":[{"t":-100,"d":0.5,"k":0.25},{"t":-80,"d":0.45,"k":0.1},{"t":-60,"d":0.22,"k":-0.1},{"t":-40,"d":-0.18,"k":-0.42},{"t":-20,"d":-0.45,"k":-0.8},{"t":0,"d":-0.68,"k":-1.05},{"t":20,"d":-0.85,"k":-1.1},{"t":40,"d":-0.9,"k":-0.98},{"t":60,"d":-0.68,"k":-0.88},{"t":80,"d":-0.75,"k":-0.98},{"t":100,"d":-1.35,"k":-1.25},{"t":120,"d":-1.85,"k":-1.5},{"t":140,"d":-2.25,"k":-1.7},{"t":150,"d":-2.35,"k":-1.75},{"t":160,"d":-2.3,"k":-1.7},{"t":180,"d":-1.8,"k":-1.42},{"t":200,"d":-1,"k":-0.85},{"t":210,"d":-0.6,"k":-0.55},{"t":220,"d":-0.3,"k":-0.25},{"t":240,"d":0.1,"k":0.45},{"t":260,"d":0.18,"k":0.85},{"t":280,"d":0.1,"k":0.85},{"t":300,"d":-0.15,"k":0.4},{"t":320,"d":-0.12,"k":0.08},{"t":340,"d":-0.28,"k":-0.02},{"t":360,"d":-0.4,"k":-0.1},{"t":380,"d":-0.3,"k":-0.02},{"t":400,"d":-0.68,"k":-0.18},{"t":420,"d":-0.9,"k":-0.45},{"t":440,"d":-1.05,"k":-0.52},{"t":460,"d":-0.72,"k":-0.4},{"t":480,"d":-0.58,"k":-0.15},{"t":500,"d":-0.25,"k":0.05},{"t":520,"d":-0.02,"k":0.15},{"t":540,"d":0.08,"k":0.1},{"t":560,"d":-0.1,"k":0.15},{"t":580,"d":0.15,"k":0.22},{"t":600,"d":0.15,"k":0.25}]
},
"vconcat":[
{"width":834,"height":5,"data":{"values":[]},"mark":"rect","view":{"fill":"#0000ff","stroke":null}},
{"spacing":0,"resolve":{"scale":{"color":"independent"},"legend":{"color":"independent"}},"hconcat":[
{"width":4,"height":519,"data":{"values":[]},"mark":"rect","view":{"fill":"#0000ff","stroke":null}},
{"spacing":8,"resolve":{"scale":{"color":"independent"},"legend":{"color":"independent"}},"vconcat":[
{"spacing":8,"title":{"text":"Strong","orient":"left","fontSize":21,"offset":-4,"anchor":"middle","dx":-1},"hconcat":[
{"width":405,"height":246,"view":{"stroke":"#333","strokeWidth":1.5},"title":{"text":"Unattend"},"resolve":{"scale":{"x":"independent","y":"independent"}},"layer":[
{"data":{"name":"SU_F3"},"layer":[
{"data":{"name":"one"},"mark":"rule","encoding":{"x":{"datum":-100},"x2":{"datum":600},"y":{"datum":0}}},
{"data":{"name":"one"},"mark":"rule","encoding":{"x":{"datum":0},"y":{"datum":-2},"y2":{"datum":2}}},
{"data":{"name":"xt"},"mark":{"type":"tick","orient":"vertical","size":5,"thickness":1},"encoding":{"x":{"field":"t","type":"quantitative"},"y":{"datum":0}}},
{"data":{"name":"yt"},"mark":{"type":"tick","orient":"horizontal","size":5,"thickness":1},"encoding":{"x":{"datum":0},"y":{"field":"d","type":"quantitative"}}},
{"transform":[{"filter":"datum.t>=130&&datum.t<=190"}],"mark":"area","encoding":{"x":{"field":"t","type":"quantitative"},"y":{"field":"d","type":"quantitative"},"y2":{"field":"k"}}},
{"mark":{"type":"line","color":"#999","strokeWidth":1},"encoding":{"x":{"field":"t","type":"quantitative"},"y":{"field":"k","type":"quantitative"}}},
{"mark":"line","encoding":{"x":{"field":"t","type":"quantitative","scale":{"domain":[-146.2,1454.6],"nice":false,"zero":false}},"y":{"field":"d","type":"quantitative","scale":{"domain":[-3.503,14.952],"reverse":true,"nice":false,"zero":false}}}},
{"data":{"name":"one"},"mark":{"type":"text","text":"F3"},"encoding":{"x":{"datum":-20},"y":{"datum":-1.7}}},
{"data":{"name":"one"},"mark":{"type":"rule","color":"#000","strokeWidth":1.5},"encoding":{"x":{"datum":46},"y":{"datum":1.3},"x2":{"datum":15},"y2":{"datum":0.42}}},
{"data":{"name":"one"},"mark":{"type":"point","shape":"triangle-up","angle":-36,"size":45,"filled":true,"color":"#000","opacity":1},"encoding":{"x":{"datum":12},"y":{"datum":0.38}}},
{"data":{"name":"one"},"mark":{"type":"text","text":"onset of deviation","fontSize":11,"baseline":"middle"},"encoding":{"x":{"datum":14},"y":{"datum":1.95}}}
]},
{"data":{"name":"SU_F4"},"layer":[
{"data":{"name":"one"},"mark":"rule","encoding":{"x":{"datum":-100},"x2":{"datum":600},"y":{"datum":0}}},
{"data":{"name":"one"},"mark":"rule","encoding":{"x":{"datum":0},"y":{"datum":-2},"y2":{"datum":2}}},
{"data":{"name":"xt"},"mark":{"type":"tick","orient":"vertical","size":5,"thickness":1},"encoding":{"x":{"field":"t","type":"quantitative"},"y":{"datum":0}}},
{"data":{"name":"yt"},"mark":{"type":"tick","orient":"horizontal","size":5,"thickness":1},"encoding":{"x":{"datum":0},"y":{"field":"d","type":"quantitative"}}},
{"transform":[{"filter":"datum.t>=130&&datum.t<=190"}],"mark":"area","encoding":{"x":{"field":"t","type":"quantitative"},"y":{"field":"d","type":"quantitative"},"y2":{"field":"k"}}},
{"mark":{"type":"line","color":"#999","strokeWidth":1},"encoding":{"x":{"field":"t","type":"quantitative"},"y":{"field":"k","type":"quantitative"}}},
{"mark":"line","encoding":{"x":{"field":"t","type":"quantitative","scale":{"domain":[-969.6,631.2],"nice":false,"zero":false}},"y":{"field":"d","type":"quantitative","scale":{"domain":[-3.503,14.952],"reverse":true,"nice":false,"zero":false}}}},
{"data":{"name":"one"},"mark":{"type":"text","text":"F4"},"encoding":{"x":{"datum":-4},"y":{"datum":-1.7}}}
]},
{"data":{"name":"SU_Fz"},"layer":[
{"data":{"name":"one"},"mark":"rule","encoding":{"x":{"datum":-100},"x2":{"datum":600},"y":{"datum":0}}},
{"data":{"name":"one"},"mark":"rule","encoding":{"x":{"datum":0},"y":{"datum":-2},"y2":{"datum":2}}},
{"data":{"name":"xt"},"mark":{"type":"tick","orient":"vertical","size":5,"thickness":1},"encoding":{"x":{"field":"t","type":"quantitative"},"y":{"datum":0}}},
{"data":{"name":"yt"},"mark":{"type":"tick","orient":"horizontal","size":5,"thickness":1},"encoding":{"x":{"datum":0},"y":{"field":"d","type":"quantitative"}}},
{"transform":[{"filter":"datum.t>=130&&datum.t<=190"}],"mark":"area","encoding":{"x":{"field":"t","type":"quantitative"},"y":{"field":"d","type":"quantitative"},"y2":{"field":"k"}}},
{"mark":{"type":"line","color":"#999","strokeWidth":1},"encoding":{"x":{"field":"t","type":"quantitative"},"y":{"field":"k","type":"quantitative"}}},
{"mark":"line","encoding":{"x":{"field":"t","type":"quantitative","scale":{"domain":[-557.3,1043.5],"nice":false,"zero":false}},"y":{"field":"d","type":"quantitative","scale":{"domain":[-7.427,11.028],"reverse":true,"nice":false,"zero":false}}}},
{"data":{"name":"one"},"mark":{"type":"text","text":"Fz"},"encoding":{"x":{"datum":17},"y":{"datum":-1.12}}}
]},
{"data":{"name":"SU_C3"},"layer":[
{"data":{"name":"one"},"mark":"rule","encoding":{"x":{"datum":-100},"x2":{"datum":600},"y":{"datum":0}}},
{"data":{"name":"one"},"mark":"rule","encoding":{"x":{"datum":0},"y":{"datum":-2},"y2":{"datum":2}}},
{"data":{"name":"xt"},"mark":{"type":"tick","orient":"vertical","size":5,"thickness":1},"encoding":{"x":{"field":"t","type":"quantitative"},"y":{"datum":0}}},
{"data":{"name":"yt"},"mark":{"type":"tick","orient":"horizontal","size":5,"thickness":1},"encoding":{"x":{"datum":0},"y":{"field":"d","type":"quantitative"}}},
{"transform":[{"filter":"datum.t>=130&&datum.t<=190"}],"mark":"area","encoding":{"x":{"field":"t","type":"quantitative"},"y":{"field":"d","type":"quantitative"},"y2":{"field":"k"}}},
{"mark":{"type":"line","color":"#999","strokeWidth":1},"encoding":{"x":{"field":"t","type":"quantitative"},"y":{"field":"k","type":"quantitative"}}},
{"mark":"line","encoding":{"x":{"field":"t","type":"quantitative","scale":{"domain":[-146.2,1454.6],"nice":false,"zero":false}},"y":{"field":"d","type":"quantitative","scale":{"domain":[-11.35,7.105],"reverse":true,"nice":false,"zero":false}}}},
{"data":{"name":"one"},"mark":{"type":"text","text":"C3"},"encoding":{"x":{"datum":-20},"y":{"datum":-2.05}}}
]},
{"data":{"name":"SU_C4"},"layer":[
{"data":{"name":"one"},"mark":"rule","encoding":{"x":{"datum":-100},"x2":{"datum":600},"y":{"datum":0}}},
{"data":{"name":"one"},"mark":"rule","encoding":{"x":{"datum":0},"y":{"datum":-2},"y2":{"datum":2}}},
{"data":{"name":"xt"},"mark":{"type":"tick","orient":"vertical","size":5,"thickness":1},"encoding":{"x":{"field":"t","type":"quantitative"},"y":{"datum":0}}},
{"data":{"name":"yt"},"mark":{"type":"tick","orient":"horizontal","size":5,"thickness":1},"encoding":{"x":{"datum":0},"y":{"field":"d","type":"quantitative"}}},
{"transform":[{"filter":"datum.t>=130&&datum.t<=190"}],"mark":"area","encoding":{"x":{"field":"t","type":"quantitative"},"y":{"field":"d","type":"quantitative"},"y2":{"field":"k"}}},
{"mark":{"type":"line","color":"#999","strokeWidth":1},"encoding":{"x":{"field":"t","type":"quantitative"},"y":{"field":"k","type":"quantitative"}}},
{"mark":"line","encoding":{"x":{"field":"t","type":"quantitative","scale":{"domain":[-969.6,631.2],"nice":false,"zero":false}},"y":{"field":"d","type":"quantitative","scale":{"domain":[-11.35,7.105],"reverse":true,"nice":false,"zero":false}}}},
{"data":{"name":"one"},"mark":{"type":"text","text":"C4"},"encoding":{"x":{"datum":-4},"y":{"datum":-2.05}}}
]},
{"data":{"name":"SU_Cz"},"layer":[
{"data":{"name":"one"},"mark":"rule","encoding":{"x":{"datum":-100},"x2":{"datum":600},"y":{"datum":0}}},
{"data":{"name":"one"},"mark":"rule","encoding":{"x":{"datum":0},"y":{"datum":-2},"y2":{"datum":2}}},
{"data":{"name":"xt"},"mark":{"type":"tick","orient":"vertical","size":5,"thickness":1},"encoding":{"x":{"field":"t","type":"quantitative"},"y":{"datum":0}}},
{"data":{"name":"yt"},"mark":{"type":"tick","orient":"horizontal","size":5,"thickness":1},"encoding":{"x":{"datum":0},"y":{"field":"d","type":"quantitative"}}},
{"transform":[{"filter":"datum.t>=130&&datum.t<=190"}],"mark":"area","encoding":{"x":{"field":"t","type":"quantitative"},"y":{"field":"d","type":"quantitative"},"y2":{"field":"k"}}},
{"mark":{"type":"line","color":"#999","strokeWidth":1},"encoding":{"x":{"field":"t","type":"quantitative"},"y":{"field":"k","type":"quantitative"}}},
{"mark":"line","encoding":{"x":{"field":"t","type":"quantitative","scale":{"domain":[-557.3,1043.5],"nice":false,"zero":false}},"y":{"field":"d","type":"quantitative","scale":{"domain":[-15.431,3.024],"reverse":true,"nice":false,"zero":false}}}},
{"data":{"name":"one"},"mark":{"type":"text","text":"Cz"},"encoding":{"x":{"datum":2},"y":{"datum":-2.12}}},
{"data":{"name":"one"},"mark":{"type":"text","text":"-2 (μV)","align":"right","baseline":"middle","dx":-2},"encoding":{"x":{"datum":0},"y":{"datum":-1.9}}},
{"data":{"name":"one"},"mark":{"type":"text","text":"300","align":"center","baseline":"middle"},"encoding":{"x":{"datum":300},"y":{"datum":2.12}}},
{"data":{"name":"one"},"mark":{"type":"text","text":"600 (ms)","baseline":"middle","dx":-11},"encoding":{"x":{"datum":600},"y":{"datum":2.12}}}
]}
]},
{"width":396,"height":246,"view":{"stroke":"#333","strokeWidth":1.5},"title":{"text":"Passive"},"resolve":{"scale":{"x":"independent","y":"independent"}},"layer":[
{"data":{"name":"SP_F3"},"layer":[
{"data":{"name":"one"},"mark":"rule","encoding":{"x":{"datum":-100},"x2":{"datum":600},"y":{"datum":0}}},
{"data":{"name":"one"},"mark":"rule","encoding":{"x":{"datum":0},"y":{"datum":-2},"y2":{"datum":2}}},
{"data":{"name":"xt"},"mark":{"type":"tick","orient":"vertical","size":5,"thickness":1},"encoding":{"x":{"field":"t","type":"quantitative"},"y":{"datum":0}}},
{"data":{"name":"yt"},"mark":{"type":"tick","orient":"horizontal","size":5,"thickness":1},"encoding":{"x":{"datum":0},"y":{"field":"d","type":"quantitative"}}},
{"transform":[{"filter":"datum.t>=110&&datum.t<=170"}],"mark":"area","encoding":{"x":{"field":"t","type":"quantitative"},"y":{"field":"d","type":"quantitative"},"y2":{"field":"k"}}},
{"mark":{"type":"line","color":"#999","strokeWidth":1},"encoding":{"x":{"field":"t","type":"quantitative"},"y":{"field":"k","type":"quantitative"}}},
{"mark":"line","encoding":{"x":{"field":"t","type":"quantitative","scale":{"domain":[-137.2,1428],"nice":false,"zero":false}},"y":{"field":"d","type":"quantitative","scale":{"domain":[-3.503,14.952],"reverse":true,"nice":false,"zero":false}}}},
{"data":{"name":"one"},"mark":{"type":"text","text":"F3"},"encoding":{"x":{"datum":-20},"y":{"datum":-1.7}}},
{"data":{"name":"one"},"mark":{"type":"rule","color":"#000","strokeWidth":1.5},"encoding":{"x":{"datum":46},"y":{"datum":1.3},"x2":{"datum":15},"y2":{"datum":0.42}}},
{"data":{"name":"one"},"mark":{"type":"point","shape":"triangle-up","angle":-36,"size":45,"filled":true,"color":"#000","opacity":1},"encoding":{"x":{"datum":12},"y":{"datum":0.38}}},
{"data":{"name":"one"},"mark":{"type":"text","text":"onset of deviation","fontSize":11,"baseline":"middle"},"encoding":{"x":{"datum":14},"y":{"datum":1.95}}}
]},
{"data":{"name":"SP_F4"},"layer":[
{"data":{"name":"one"},"mark":"rule","encoding":{"x":{"datum":-100},"x2":{"datum":600},"y":{"datum":0}}},
{"data":{"name":"one"},"mark":"rule","encoding":{"x":{"datum":0},"y":{"datum":-2},"y2":{"datum":2}}},
{"data":{"name":"xt"},"mark":{"type":"tick","orient":"vertical","size":5,"thickness":1},"encoding":{"x":{"field":"t","type":"quantitative"},"y":{"datum":0}}},
{"data":{"name":"yt"},"mark":{"type":"tick","orient":"horizontal","size":5,"thickness":1},"encoding":{"x":{"datum":0},"y":{"field":"d","type":"quantitative"}}},
{"transform":[{"filter":"datum.t>=110&&datum.t<=170"}],"mark":"area","encoding":{"x":{"field":"t","type":"quantitative"},"y":{"field":"d","type":"quantitative"},"y2":{"field":"k"}}},
{"mark":{"type":"line","color":"#999","strokeWidth":1},"encoding":{"x":{"field":"t","type":"quantitative"},"y":{"field":"k","type":"quantitative"}}},
{"mark":"line","encoding":{"x":{"field":"t","type":"quantitative","scale":{"domain":[-957.7,607.5],"nice":false,"zero":false}},"y":{"field":"d","type":"quantitative","scale":{"domain":[-3.503,14.952],"reverse":true,"nice":false,"zero":false}}}},
{"data":{"name":"one"},"mark":{"type":"text","text":"F4"},"encoding":{"x":{"datum":-4},"y":{"datum":-1.7}}}
]},
{"data":{"name":"SP_Fz"},"layer":[
{"data":{"name":"one"},"mark":"rule","encoding":{"x":{"datum":-100},"x2":{"datum":600},"y":{"datum":0}}},
{"data":{"name":"one"},"mark":"rule","encoding":{"x":{"datum":0},"y":{"datum":-2},"y2":{"datum":2}}},
{"data":{"name":"xt"},"mark":{"type":"tick","orient":"vertical","size":5,"thickness":1},"encoding":{"x":{"field":"t","type":"quantitative"},"y":{"datum":0}}},
{"data":{"name":"yt"},"mark":{"type":"tick","orient":"horizontal","size":5,"thickness":1},"encoding":{"x":{"datum":0},"y":{"field":"d","type":"quantitative"}}},
{"transform":[{"filter":"datum.t>=110&&datum.t<=170"}],"mark":"area","encoding":{"x":{"field":"t","type":"quantitative"},"y":{"field":"d","type":"quantitative"},"y2":{"field":"k"}}},
{"mark":{"type":"line","color":"#999","strokeWidth":1},"encoding":{"x":{"field":"t","type":"quantitative"},"y":{"field":"k","type":"quantitative"}}},
{"mark":"line","encoding":{"x":{"field":"t","type":"quantitative","scale":{"domain":[-552.2,1013],"nice":false,"zero":false}},"y":{"field":"d","type":"quantitative","scale":{"domain":[-7.427,11.028],"reverse":true,"nice":false,"zero":false}}}},
{"data":{"name":"one"},"mark":{"type":"text","text":"Fz"},"encoding":{"x":{"datum":17},"y":{"datum":-1.12}}}
]},
{"data":{"name":"SP_C3"},"layer":[
{"data":{"name":"one"},"mark":"rule","encoding":{"x":{"datum":-100},"x2":{"datum":600},"y":{"datum":0}}},
{"data":{"name":"one"},"mark":"rule","encoding":{"x":{"datum":0},"y":{"datum":-2},"y2":{"datum":2}}},
{"data":{"name":"xt"},"mark":{"type":"tick","orient":"vertical","size":5,"thickness":1},"encoding":{"x":{"field":"t","type":"quantitative"},"y":{"datum":0}}},
{"data":{"name":"yt"},"mark":{"type":"tick","orient":"horizontal","size":5,"thickness":1},"encoding":{"x":{"datum":0},"y":{"field":"d","type":"quantitative"}}},
{"transform":[{"filter":"datum.t>=110&&datum.t<=170"}],"mark":"area","encoding":{"x":{"field":"t","type":"quantitative"},"y":{"field":"d","type":"quantitative"},"y2":{"field":"k"}}},
{"mark":{"type":"line","color":"#999","strokeWidth":1},"encoding":{"x":{"field":"t","type":"quantitative"},"y":{"field":"k","type":"quantitative"}}},
{"mark":"line","encoding":{"x":{"field":"t","type":"quantitative","scale":{"domain":[-137.2,1428],"nice":false,"zero":false}},"y":{"field":"d","type":"quantitative","scale":{"domain":[-11.35,7.105],"reverse":true,"nice":false,"zero":false}}}},
{"data":{"name":"one"},"mark":{"type":"text","text":"C3"},"encoding":{"x":{"datum":-20},"y":{"datum":-2.05}}}
]},
{"data":{"name":"SP_C4"},"layer":[
{"data":{"name":"one"},"mark":"rule","encoding":{"x":{"datum":-100},"x2":{"datum":600},"y":{"datum":0}}},
{"data":{"name":"one"},"mark":"rule","encoding":{"x":{"datum":0},"y":{"datum":-2},"y2":{"datum":2}}},
{"data":{"name":"xt"},"mark":{"type":"tick","orient":"vertical","size":5,"thickness":1},"encoding":{"x":{"field":"t","type":"quantitative"},"y":{"datum":0}}},
{"data":{"name":"yt"},"mark":{"type":"tick","orient":"horizontal","size":5,"thickness":1},"encoding":{"x":{"datum":0},"y":{"field":"d","type":"quantitative"}}},
{"transform":[{"filter":"datum.t>=110&&datum.t<=170"}],"mark":"area","encoding":{"x":{"field":"t","type":"quantitative"},"y":{"field":"d","type":"quantitative"},"y2":{"field":"k"}}},
{"mark":{"type":"line","color":"#999","strokeWidth":1},"encoding":{"x":{"field":"t","type":"quantitative"},"y":{"field":"k","type":"quantitative"}}},
{"mark":"line","encoding":{"x":{"field":"t","type":"quantitative","scale":{"domain":[-957.7,607.5],"nice":false,"zero":false}},"y":{"field":"d","type":"quantitative","scale":{"domain":[-11.35,7.105],"reverse":true,"nice":false,"zero":false}}}},
{"data":{"name":"one"},"mark":{"type":"text","text":"C4"},"encoding":{"x":{"datum":-4},"y":{"datum":-2.05}}}
]},
{"data":{"name":"SP_Cz"},"layer":[
{"data":{"name":"one"},"mark":"rule","encoding":{"x":{"datum":-100},"x2":{"datum":600},"y":{"datum":0}}},
{"data":{"name":"one"},"mark":"rule","encoding":{"x":{"datum":0},"y":{"datum":-2},"y2":{"datum":2}}},
{"data":{"name":"xt"},"mark":{"type":"tick","orient":"vertical","size":5,"thickness":1},"encoding":{"x":{"field":"t","type":"quantitative"},"y":{"datum":0}}},
{"data":{"name":"yt"},"mark":{"type":"tick","orient":"horizontal","size":5,"thickness":1},"encoding":{"x":{"datum":0},"y":{"field":"d","type":"quantitative"}}},
{"transform":[{"filter":"datum.t>=110&&datum.t<=170"}],"mark":"area","encoding":{"x":{"field":"t","type":"quantitative"},"y":{"field":"d","type":"quantitative"},"y2":{"field":"k"}}},
{"mark":{"type":"line","color":"#999","strokeWidth":1},"encoding":{"x":{"field":"t","type":"quantitative"},"y":{"field":"k","type":"quantitative"}}},
{"mark":"line","encoding":{"x":{"field":"t","type":"quantitative","scale":{"domain":[-552.2,1013],"nice":false,"zero":false}},"y":{"field":"d","type":"quantitative","scale":{"domain":[-15.431,3.024],"reverse":true,"nice":false,"zero":false}}}},
{"data":{"name":"one"},"mark":{"type":"text","text":"Cz"},"encoding":{"x":{"datum":2},"y":{"datum":-2.12}}},
{"data":{"name":"one"},"mark":{"type":"text","text":"-2 (μV)","align":"right","baseline":"middle","dx":-2},"encoding":{"x":{"datum":0},"y":{"datum":-1.9}}},
{"data":{"name":"one"},"mark":{"type":"text","text":"300","align":"center","baseline":"middle"},"encoding":{"x":{"datum":300},"y":{"datum":2.12}}},
{"data":{"name":"one"},"mark":{"type":"text","text":"600 (ms)","baseline":"middle","dx":-11},"encoding":{"x":{"datum":600},"y":{"datum":2.12}}}
]}
]}
]},
{"spacing":8,"resolve":{"scale":{"color":"independent"},"legend":{"color":"independent"}},"title":{"text":"Weak","orient":"left","fontSize":21,"offset":-4,"anchor":"middle","dx":10},"hconcat":[
{"width":405,"height":242,"view":{"stroke":"#333","strokeWidth":1.5},"resolve":{"scale":{"x":"independent","y":"independent"}},"layer":[
{"data":{"name":"WU_F3"},"layer":[
{"data":{"name":"one"},"mark":"rule","encoding":{"x":{"datum":-100},"x2":{"datum":600},"y":{"datum":0}}},
{"data":{"name":"one"},"mark":"rule","encoding":{"x":{"datum":0},"y":{"datum":-2},"y2":{"datum":2}}},
{"data":{"name":"xt"},"mark":{"type":"tick","orient":"vertical","size":5,"thickness":1},"encoding":{"x":{"field":"t","type":"quantitative"},"y":{"datum":0}}},
{"data":{"name":"yt"},"mark":{"type":"tick","orient":"horizontal","size":5,"thickness":1},"encoding":{"x":{"datum":0},"y":{"field":"d","type":"quantitative"}}},
{"transform":[{"filter":"datum.t>=170&&datum.t<=230"}],"mark":"area","encoding":{"x":{"field":"t","type":"quantitative"},"y":{"field":"d","type":"quantitative"},"y2":{"field":"k"},"color":{"datum":"Difference area","legend":{"title":null,"orient":"none","legendX":0,"legendY":188,"padding":4,"strokeColor":"#444","fillColor":"#ffffff","symbolType":"stroke","symbolSize":400,"labelFontSize":11,"labelFont":"Liberation Sans","labelColor":"#000","rowPadding":-3,"labelOffset":3,"encode":{"legend":{"update":{"fill":{"value":"#ffffff"},"stroke":{"value":"#444444"},"strokeWidth":{"value":1.5}}},"symbols":{"update":{"strokeWidth":{"signal":"datum.value==='Deviant'?2.2:datum.value==='Control'?1:7"},"size":{"signal":"datum.value==='Difference area'?25:400"},"stroke":{"signal":"datum.value==='Deviant'?'#000':datum.value==='Control'?'#999':'#666'"},"opacity":{"value":1}}}}}}}},
{"mark":{"type":"line","strokeWidth":1},"encoding":{"x":{"field":"t","type":"quantitative"},"y":{"field":"k","type":"quantitative"},"color":{"datum":"Control"}}},
{"mark":"line","encoding":{"x":{"field":"t","type":"quantitative","scale":{"domain":[-146.2,1454.6],"nice":false,"zero":false}},"y":{"field":"d","type":"quantitative","scale":{"domain":[-3.428,14.727],"reverse":true,"nice":false,"zero":false}},"color":{"datum":"Deviant","scale":{"domain":["Deviant","Control","Difference area"],"range":["#000000","#999999","#777777"]}}}},
{"data":{"name":"one"},"mark":{"type":"text","text":"F3"},"encoding":{"x":{"datum":-20},"y":{"datum":-2.0}}},
{"data":{"name":"one"},"mark":{"type":"rule","color":"#000","strokeWidth":1.5},"encoding":{"x":{"datum":46},"y":{"datum":1.3},"x2":{"datum":15},"y2":{"datum":0.42}}},
{"data":{"name":"one"},"mark":{"type":"point","shape":"triangle-up","angle":-36,"size":45,"filled":true,"color":"#000","opacity":1},"encoding":{"x":{"datum":12},"y":{"datum":0.38}}},
{"data":{"name":"one"},"mark":{"type":"text","text":"onset of deviation","fontSize":11,"baseline":"middle"},"encoding":{"x":{"datum":14},"y":{"datum":1.95}}}
]},
{"data":{"name":"WU_F4"},"layer":[
{"data":{"name":"one"},"mark":"rule","encoding":{"x":{"datum":-100},"x2":{"datum":600},"y":{"datum":0}}},
{"data":{"name":"one"},"mark":"rule","encoding":{"x":{"datum":0},"y":{"datum":-2},"y2":{"datum":2}}},
{"data":{"name":"xt"},"mark":{"type":"tick","orient":"vertical","size":5,"thickness":1},"encoding":{"x":{"field":"t","type":"quantitative"},"y":{"datum":0}}},
{"data":{"name":"yt"},"mark":{"type":"tick","orient":"horizontal","size":5,"thickness":1},"encoding":{"x":{"datum":0},"y":{"field":"d","type":"quantitative"}}},
{"transform":[{"filter":"datum.t>=170&&datum.t<=230"}],"mark":"area","encoding":{"x":{"field":"t","type":"quantitative"},"y":{"field":"d","type":"quantitative"},"y2":{"field":"k"}}},
{"mark":{"type":"line","color":"#999","strokeWidth":1},"encoding":{"x":{"field":"t","type":"quantitative"},"y":{"field":"k","type":"quantitative"}}},
{"mark":"line","encoding":{"x":{"field":"t","type":"quantitative","scale":{"domain":[-969.6,631.2],"nice":false,"zero":false}},"y":{"field":"d","type":"quantitative","scale":{"domain":[-3.428,14.727],"reverse":true,"nice":false,"zero":false}}}},
{"data":{"name":"one"},"mark":{"type":"text","text":"F4"},"encoding":{"x":{"datum":-4},"y":{"datum":-2.0}}}
]},
{"data":{"name":"WU_Fz"},"layer":[
{"data":{"name":"one"},"mark":"rule","encoding":{"x":{"datum":-100},"x2":{"datum":600},"y":{"datum":0}}},
{"data":{"name":"one"},"mark":"rule","encoding":{"x":{"datum":0},"y":{"datum":-2},"y2":{"datum":2}}},
{"data":{"name":"xt"},"mark":{"type":"tick","orient":"vertical","size":5,"thickness":1},"encoding":{"x":{"field":"t","type":"quantitative"},"y":{"datum":0}}},
{"data":{"name":"yt"},"mark":{"type":"tick","orient":"horizontal","size":5,"thickness":1},"encoding":{"x":{"datum":0},"y":{"field":"d","type":"quantitative"}}},
{"transform":[{"filter":"datum.t>=170&&datum.t<=230"}],"mark":"area","encoding":{"x":{"field":"t","type":"quantitative"},"y":{"field":"d","type":"quantitative"},"y2":{"field":"k"}}},
{"mark":{"type":"line","color":"#999","strokeWidth":1},"encoding":{"x":{"field":"t","type":"quantitative"},"y":{"field":"k","type":"quantitative"}}},
{"mark":"line","encoding":{"x":{"field":"t","type":"quantitative","scale":{"domain":[-557.3,1043.5],"nice":false,"zero":false}},"y":{"field":"d","type":"quantitative","scale":{"domain":[-7.277,10.878],"reverse":true,"nice":false,"zero":false}}}},
{"data":{"name":"one"},"mark":{"type":"text","text":"Fz"},"encoding":{"x":{"datum":17},"y":{"datum":-1.65}}}
]},
{"data":{"name":"WU_C3"},"layer":[
{"data":{"name":"one"},"mark":"rule","encoding":{"x":{"datum":-100},"x2":{"datum":600},"y":{"datum":0}}},
{"data":{"name":"one"},"mark":"rule","encoding":{"x":{"datum":0},"y":{"datum":-2},"y2":{"datum":2}}},
{"data":{"name":"xt"},"mark":{"type":"tick","orient":"vertical","size":5,"thickness":1},"encoding":{"x":{"field":"t","type":"quantitative"},"y":{"datum":0}}},
{"data":{"name":"yt"},"mark":{"type":"tick","orient":"horizontal","size":5,"thickness":1},"encoding":{"x":{"datum":0},"y":{"field":"d","type":"quantitative"}}},
{"transform":[{"filter":"datum.t>=170&&datum.t<=230"}],"mark":"area","encoding":{"x":{"field":"t","type":"quantitative"},"y":{"field":"d","type":"quantitative"},"y2":{"field":"k"}}},
{"mark":{"type":"line","color":"#999","strokeWidth":1},"encoding":{"x":{"field":"t","type":"quantitative"},"y":{"field":"k","type":"quantitative"}}},
{"mark":"line","encoding":{"x":{"field":"t","type":"quantitative","scale":{"domain":[-146.2,1454.6],"nice":false,"zero":false}},"y":{"field":"d","type":"quantitative","scale":{"domain":[-11.2,6.955],"reverse":true,"nice":false,"zero":false}}}},
{"data":{"name":"one"},"mark":{"type":"text","text":"C3"},"encoding":{"x":{"datum":-20},"y":{"datum":-2.05}}}
]},
{"data":{"name":"WU_C4"},"layer":[
{"data":{"name":"one"},"mark":"rule","encoding":{"x":{"datum":-100},"x2":{"datum":600},"y":{"datum":0}}},
{"data":{"name":"one"},"mark":"rule","encoding":{"x":{"datum":0},"y":{"datum":-2},"y2":{"datum":2}}},
{"data":{"name":"xt"},"mark":{"type":"tick","orient":"vertical","size":5,"thickness":1},"encoding":{"x":{"field":"t","type":"quantitative"},"y":{"datum":0}}},
{"data":{"name":"yt"},"mark":{"type":"tick","orient":"horizontal","size":5,"thickness":1},"encoding":{"x":{"datum":0},"y":{"field":"d","type":"quantitative"}}},
{"transform":[{"filter":"datum.t>=170&&datum.t<=230"}],"mark":"area","encoding":{"x":{"field":"t","type":"quantitative"},"y":{"field":"d","type":"quantitative"},"y2":{"field":"k"}}},
{"mark":{"type":"line","color":"#999","strokeWidth":1},"encoding":{"x":{"field":"t","type":"quantitative"},"y":{"field":"k","type":"quantitative"}}},
{"mark":"line","encoding":{"x":{"field":"t","type":"quantitative","scale":{"domain":[-969.6,631.2],"nice":false,"zero":false}},"y":{"field":"d","type":"quantitative","scale":{"domain":[-11.2,6.955],"reverse":true,"nice":false,"zero":false}}}},
{"data":{"name":"one"},"mark":{"type":"text","text":"C4"},"encoding":{"x":{"datum":-4},"y":{"datum":-2.05}}}
]},
{"data":{"name":"WU_Cz"},"layer":[
{"data":{"name":"one"},"mark":"rule","encoding":{"x":{"datum":-100},"x2":{"datum":600},"y":{"datum":0}}},
{"data":{"name":"one"},"mark":"rule","encoding":{"x":{"datum":0},"y":{"datum":-2},"y2":{"datum":2}}},
{"data":{"name":"xt"},"mark":{"type":"tick","orient":"vertical","size":5,"thickness":1},"encoding":{"x":{"field":"t","type":"quantitative"},"y":{"datum":0}}},
{"data":{"name":"yt"},"mark":{"type":"tick","orient":"horizontal","size":5,"thickness":1},"encoding":{"x":{"datum":0},"y":{"field":"d","type":"quantitative"}}},
{"transform":[{"filter":"datum.t>=170&&datum.t<=230"}],"mark":"area","encoding":{"x":{"field":"t","type":"quantitative"},"y":{"field":"d","type":"quantitative"},"y2":{"field":"k"}}},
{"mark":{"type":"line","color":"#999","strokeWidth":1},"encoding":{"x":{"field":"t","type":"quantitative"},"y":{"field":"k","type":"quantitative"}}},
{"mark":"line","encoding":{"x":{"field":"t","type":"quantitative","scale":{"domain":[-557.3,1043.5],"nice":false,"zero":false}},"y":{"field":"d","type":"quantitative","scale":{"domain":[-15.176,2.979],"reverse":true,"nice":false,"zero":false}}}},
{"data":{"name":"one"},"mark":{"type":"text","text":"Cz"},"encoding":{"x":{"datum":2},"y":{"datum":-1.8}}},
{"data":{"name":"one"},"mark":{"type":"text","text":"-2 (μV)","align":"right","baseline":"middle","dx":-2},"encoding":{"x":{"datum":0},"y":{"datum":-1.75}}},
{"data":{"name":"one"},"mark":{"type":"text","text":"300","align":"center","baseline":"middle"},"encoding":{"x":{"datum":300},"y":{"datum":2.15}}},
{"data":{"name":"one"},"mark":{"type":"text","text":"600 (ms)","baseline":"middle","dx":-11},"encoding":{"x":{"datum":600},"y":{"datum":2.15}}}
]}
]},
{"width":396,"height":242,"view":{"stroke":"#333","strokeWidth":1.5},"resolve":{"scale":{"x":"independent","y":"independent"}},"layer":[
{"data":{"name":"WP_F3"},"layer":[
{"data":{"name":"one"},"mark":"rule","encoding":{"x":{"datum":-100},"x2":{"datum":600},"y":{"datum":0}}},
{"data":{"name":"one"},"mark":"rule","encoding":{"x":{"datum":0},"y":{"datum":-2},"y2":{"datum":2}}},
{"data":{"name":"xt"},"mark":{"type":"tick","orient":"vertical","size":5,"thickness":1},"encoding":{"x":{"field":"t","type":"quantitative"},"y":{"datum":0}}},
{"data":{"name":"yt"},"mark":{"type":"tick","orient":"horizontal","size":5,"thickness":1},"encoding":{"x":{"datum":0},"y":{"field":"d","type":"quantitative"}}},
{"transform":[{"filter":"datum.t>=150&&datum.t<=210"}],"mark":"area","encoding":{"x":{"field":"t","type":"quantitative"},"y":{"field":"d","type":"quantitative"},"y2":{"field":"k"}}},
{"mark":{"type":"line","color":"#999","strokeWidth":1},"encoding":{"x":{"field":"t","type":"quantitative"},"y":{"field":"k","type":"quantitative"}}},
{"mark":"line","encoding":{"x":{"field":"t","type":"quantitative","scale":{"domain":[-137.2,1428],"nice":false,"zero":false}},"y":{"field":"d","type":"quantitative","scale":{"domain":[-3.428,14.727],"reverse":true,"nice":false,"zero":false}}}},
{"data":{"name":"one"},"mark":{"type":"text","text":"F3"},"encoding":{"x":{"datum":-20},"y":{"datum":-2.0}}},
{"data":{"name":"one"},"mark":{"type":"rule","color":"#000","strokeWidth":1.5},"encoding":{"x":{"datum":46},"y":{"datum":1.3},"x2":{"datum":15},"y2":{"datum":0.42}}},
{"data":{"name":"one"},"mark":{"type":"point","shape":"triangle-up","angle":-36,"size":45,"filled":true,"color":"#000","opacity":1},"encoding":{"x":{"datum":12},"y":{"datum":0.38}}},
{"data":{"name":"one"},"mark":{"type":"text","text":"onset of deviation","fontSize":11,"baseline":"middle"},"encoding":{"x":{"datum":14},"y":{"datum":1.95}}}
]},
{"data":{"name":"WP_F4"},"layer":[
{"data":{"name":"one"},"mark":"rule","encoding":{"x":{"datum":-100},"x2":{"datum":600},"y":{"datum":0}}},
{"data":{"name":"one"},"mark":"rule","encoding":{"x":{"datum":0},"y":{"datum":-2},"y2":{"datum":2}}},
{"data":{"name":"xt"},"mark":{"type":"tick","orient":"vertical","size":5,"thickness":1},"encoding":{"x":{"field":"t","type":"quantitative"},"y":{"datum":0}}},
{"data":{"name":"yt"},"mark":{"type":"tick","orient":"horizontal","size":5,"thickness":1},"encoding":{"x":{"datum":0},"y":{"field":"d","type":"quantitative"}}},
{"transform":[{"filter":"datum.t>=150&&datum.t<=210"}],"mark":"area","encoding":{"x":{"field":"t","type":"quantitative"},"y":{"field":"d","type":"quantitative"},"y2":{"field":"k"}}},
{"mark":{"type":"line","color":"#999","strokeWidth":1},"encoding":{"x":{"field":"t","type":"quantitative"},"y":{"field":"k","type":"quantitative"}}},
{"mark":"line","encoding":{"x":{"field":"t","type":"quantitative","scale":{"domain":[-957.7,607.5],"nice":false,"zero":false}},"y":{"field":"d","type":"quantitative","scale":{"domain":[-3.428,14.727],"reverse":true,"nice":false,"zero":false}}}},
{"data":{"name":"one"},"mark":{"type":"text","text":"F4"},"encoding":{"x":{"datum":-4},"y":{"datum":-2.0}}}
]},
{"data":{"name":"WP_Fz"},"layer":[
{"data":{"name":"one"},"mark":"rule","encoding":{"x":{"datum":-100},"x2":{"datum":600},"y":{"datum":0}}},
{"data":{"name":"one"},"mark":"rule","encoding":{"x":{"datum":0},"y":{"datum":-2},"y2":{"datum":2}}},
{"data":{"name":"xt"},"mark":{"type":"tick","orient":"vertical","size":5,"thickness":1},"encoding":{"x":{"field":"t","type":"quantitative"},"y":{"datum":0}}},
{"data":{"name":"yt"},"mark":{"type":"tick","orient":"horizontal","size":5,"thickness":1},"encoding":{"x":{"datum":0},"y":{"field":"d","type":"quantitative"}}},
{"transform":[{"filter":"datum.t>=150&&datum.t<=210"}],"mark":"area","encoding":{"x":{"field":"t","type":"quantitative"},"y":{"field":"d","type":"quantitative"},"y2":{"field":"k"}}},
{"mark":{"type":"line","color":"#999","strokeWidth":1},"encoding":{"x":{"field":"t","type":"quantitative"},"y":{"field":"k","type":"quantitative"}}},
{"mark":"line","encoding":{"x":{"field":"t","type":"quantitative","scale":{"domain":[-552.2,1013],"nice":false,"zero":false}},"y":{"field":"d","type":"quantitative","scale":{"domain":[-7.277,10.878],"reverse":true,"nice":false,"zero":false}}}},
{"data":{"name":"one"},"mark":{"type":"text","text":"Fz"},"encoding":{"x":{"datum":17},"y":{"datum":-1.65}}}
]},
{"data":{"name":"WP_C3"},"layer":[
{"data":{"name":"one"},"mark":"rule","encoding":{"x":{"datum":-100},"x2":{"datum":600},"y":{"datum":0}}},
{"data":{"name":"one"},"mark":"rule","encoding":{"x":{"datum":0},"y":{"datum":-2},"y2":{"datum":2}}},
{"data":{"name":"xt"},"mark":{"type":"tick","orient":"vertical","size":5,"thickness":1},"encoding":{"x":{"field":"t","type":"quantitative"},"y":{"datum":0}}},
{"data":{"name":"yt"},"mark":{"type":"tick","orient":"horizontal","size":5,"thickness":1},"encoding":{"x":{"datum":0},"y":{"field":"d","type":"quantitative"}}},
{"transform":[{"filter":"datum.t>=150&&datum.t<=210"}],"mark":"area","encoding":{"x":{"field":"t","type":"quantitative"},"y":{"field":"d","type":"quantitative"},"y2":{"field":"k"}}},
{"mark":{"type":"line","color":"#999","strokeWidth":1},"encoding":{"x":{"field":"t","type":"quantitative"},"y":{"field":"k","type":"quantitative"}}},
{"mark":"line","encoding":{"x":{"field":"t","type":"quantitative","scale":{"domain":[-137.2,1428],"nice":false,"zero":false}},"y":{"field":"d","type":"quantitative","scale":{"domain":[-11.2,6.955],"reverse":true,"nice":false,"zero":false}}}},
{"data":{"name":"one"},"mark":{"type":"text","text":"C3"},"encoding":{"x":{"datum":-20},"y":{"datum":-2.05}}}
]},
{"data":{"name":"WP_C4"},"layer":[
{"data":{"name":"one"},"mark":"rule","encoding":{"x":{"datum":-100},"x2":{"datum":600},"y":{"datum":0}}},
{"data":{"name":"one"},"mark":"rule","encoding":{"x":{"datum":0},"y":{"datum":-2},"y2":{"datum":2}}},
{"data":{"name":"xt"},"mark":{"type":"tick","orient":"vertical","size":5,"thickness":1},"encoding":{"x":{"field":"t","type":"quantitative"},"y":{"datum":0}}},
{"data":{"name":"yt"},"mark":{"type":"tick","orient":"horizontal","size":5,"thickness":1},"encoding":{"x":{"datum":0},"y":{"field":"d","type":"quantitative"}}},
{"transform":[{"filter":"datum.t>=150&&datum.t<=210"}],"mark":"area","encoding":{"x":{"field":"t","type":"quantitative"},"y":{"field":"d","type":"quantitative"},"y2":{"field":"k"}}},
{"mark":{"type":"line","color":"#999","strokeWidth":1},"encoding":{"x":{"field":"t","type":"quantitative"},"y":{"field":"k","type":"quantitative"}}},
{"mark":"line","encoding":{"x":{"field":"t","type":"quantitative","scale":{"domain":[-957.7,607.5],"nice":false,"zero":false}},"y":{"field":"d","type":"quantitative","scale":{"domain":[-11.2,6.955],"reverse":true,"nice":false,"zero":false}}}},
{"data":{"name":"one"},"mark":{"type":"text","text":"C4"},"encoding":{"x":{"datum":-4},"y":{"datum":-2.05}}}
]},
{"data":{"name":"WP_Cz"},"layer":[
{"data":{"name":"one"},"mark":"rule","encoding":{"x":{"datum":-100},"x2":{"datum":600},"y":{"datum":0}}},
{"data":{"name":"one"},"mark":"rule","encoding":{"x":{"datum":0},"y":{"datum":-2},"y2":{"datum":2}}},
{"data":{"name":"xt"},"mark":{"type":"tick","orient":"vertical","size":5,"thickness":1},"encoding":{"x":{"field":"t","type":"quantitative"},"y":{"datum":0}}},
{"data":{"name":"yt"},"mark":{"type":"tick","orient":"horizontal","size":5,"thickness":1},"encoding":{"x":{"datum":0},"y":{"field":"d","type":"quantitative"}}},
{"transform":[{"filter":"datum.t>=150&&datum.t<=210"}],"mark":"area","encoding":{"x":{"field":"t","type":"quantitative"},"y":{"field":"d","type":"quantitative"},"y2":{"field":"k"}}},
{"mark":{"type":"line","color":"#999","strokeWidth":1},"encoding":{"x":{"field":"t","type":"quantitative"},"y":{"field":"k","type":"quantitative"}}},
{"mark":"line","encoding":{"x":{"field":"t","type":"quantitative","scale":{"domain":[-552.2,1013],"nice":false,"zero":false}},"y":{"field":"d","type":"quantitative","scale":{"domain":[-15.176,2.979],"reverse":true,"nice":false,"zero":false}}}},
{"data":{"name":"one"},"mark":{"type":"text","text":"Cz"},"encoding":{"x":{"datum":2},"y":{"datum":-1.8}}},
{"data":{"name":"one"},"mark":{"type":"text","text":"-2 (μV)","align":"right","baseline":"middle","dx":-2},"encoding":{"x":{"datum":0},"y":{"datum":-1.75}}},
{"data":{"name":"one"},"mark":{"type":"text","text":"300","align":"center","baseline":"middle"},"encoding":{"x":{"datum":300},"y":{"datum":2.15}}},
{"data":{"name":"one"},"mark":{"type":"text","text":"600 (ms)","baseline":"middle","dx":-11},"encoding":{"x":{"datum":600},"y":{"datum":2.15}}}
]}
]}
]}
]}
]}
]
}
